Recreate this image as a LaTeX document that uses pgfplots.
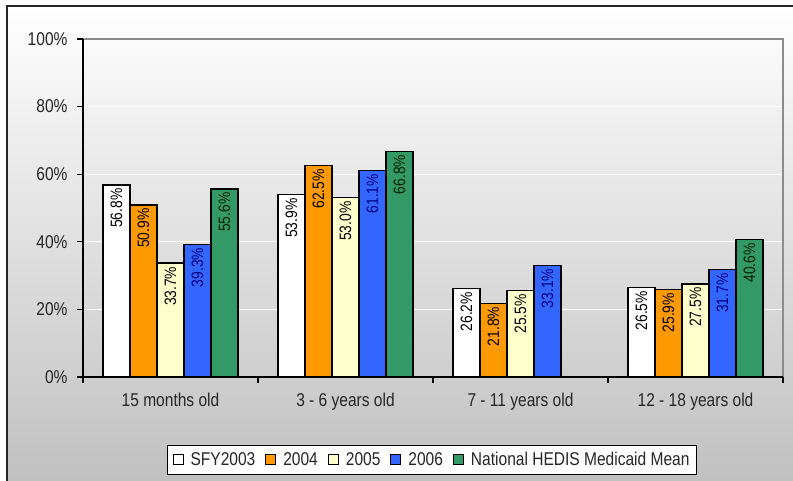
\documentclass[border=0pt]{standalone}
\usepackage{fontspec}
\setmainfont{Liberation Sans}[FakeStretch=0.84]
\usepackage{pgfplots}
\pgfplotsset{compat=1.18}
\definecolor{barorange}{HTML}{FF9900}
\definecolor{baryellow}{HTML}{FFFFCC}
\definecolor{barblue}{HTML}{3366FF}
\definecolor{bargreen}{HTML}{339966}
\definecolor{navytext}{HTML}{000080}
\definecolor{greentext}{HTML}{002200}
\begin{document}
\begin{tikzpicture}[x=1bp,y=1bp]
\useasboundingbox (0,0) rectangle (793,481);
\shade[top color=white, bottom color=black!25] (7,-10) rectangle (803,475);
\draw[line width=1.5bp, black!85] (7,-10) -- (7,475) -- (803,475);
\begin{axis}[
  at={(83bp,104bp)}, anchor=south west,
  scale only axis, width=700bp, height=338bp,
  xmin=-0.5, xmax=3.5, ymin=0, ymax=100,
  ybar=0pt, bar width=27bp,
  axis line style={draw=none},
  xtick={-0.5,0.5,1.5,2.5,3.5},
  xticklabels={15 months old, 3 - 6 years old, 7 - 11 years old, 12 - 18 years old},
  x tick label as interval,
  ytick={0,20,...,100},
  yticklabel={\pgfmathprintnumber{\tick}\%},
  /pgf/number format/assume math mode=true,
  tick align=outside, xtick pos=bottom, ytick pos=left,
  major tick length=6bp,
  tick style={black, line width=1.2bp},
  ymajorgrids, grid style={white, line width=1bp},
  tick label style={font=\fontsize{18.5bp}{22bp}\selectfont, text=black!85},
  yticklabel style={xshift=-6bp},
  xticklabel style={yshift=-7bp},
  nodes near coords={\pgfmathprintnumber[fixed,fixed zerofill,precision=1]{\pgfplotspointmeta}\%},
  every node near coord/.append style={rotate=90, anchor=east, inner sep=3bp,
     font=\fontsize{16.5bp}{18bp}\selectfont, text=black},
  legend style={at={(0.4986,-0.244)}, anchor=center, draw=black, fill=white,
     inner xsep=5bp, inner ysep=5bp,
     font=\fontsize{18.5bp}{22bp}\selectfont, text=black!85,
     /tikz/every odd column/.append style={column sep=5bp},
     /tikz/every even column/.append style={column sep=8bp}},
  legend columns=5,
  legend image code/.code={\draw[#1, draw=black, line width=1bp] (0bp,-5bp) rectangle (10bp,5bp);},
  after end axis/.code={
    \draw[black!45, line width=1.2bp] (rel axis cs:0,1) -- (rel axis cs:1,1) -- (rel axis cs:1,0);
    \draw[black, line width=1.2bp] (rel axis cs:0,1) -- (rel axis cs:0,0) -- (rel axis cs:1,0);
  },
]
\addplot[fill=white, draw=black, line width=1.2bp] coordinates {(0,56.8) (1,53.9) (2,26.2) (3,26.5)};
\addplot[fill=barorange, draw=black, line width=1.2bp] coordinates {(0,50.9) (1,62.5) (2,21.8) (3,25.9)};
\addplot[fill=baryellow, draw=black, line width=1.2bp] coordinates {(0,33.7) (1,53.0) (2,25.5) (3,27.5)};
\addplot[fill=barblue, draw=black, line width=1.2bp, every node near coord/.append style={text=navytext}] coordinates {(0,39.3) (1,61.1) (2,33.1) (3,31.7)};
\addplot[fill=bargreen, draw=black, line width=1.2bp, every node near coord/.append style={text=greentext}] coordinates {(0,55.6) (1,66.8) (3,40.6)};
\legend{SFY2003, 2004, 2005, 2006, National HEDIS Medicaid Mean}
\end{axis}
\end{tikzpicture}
\end{document}
